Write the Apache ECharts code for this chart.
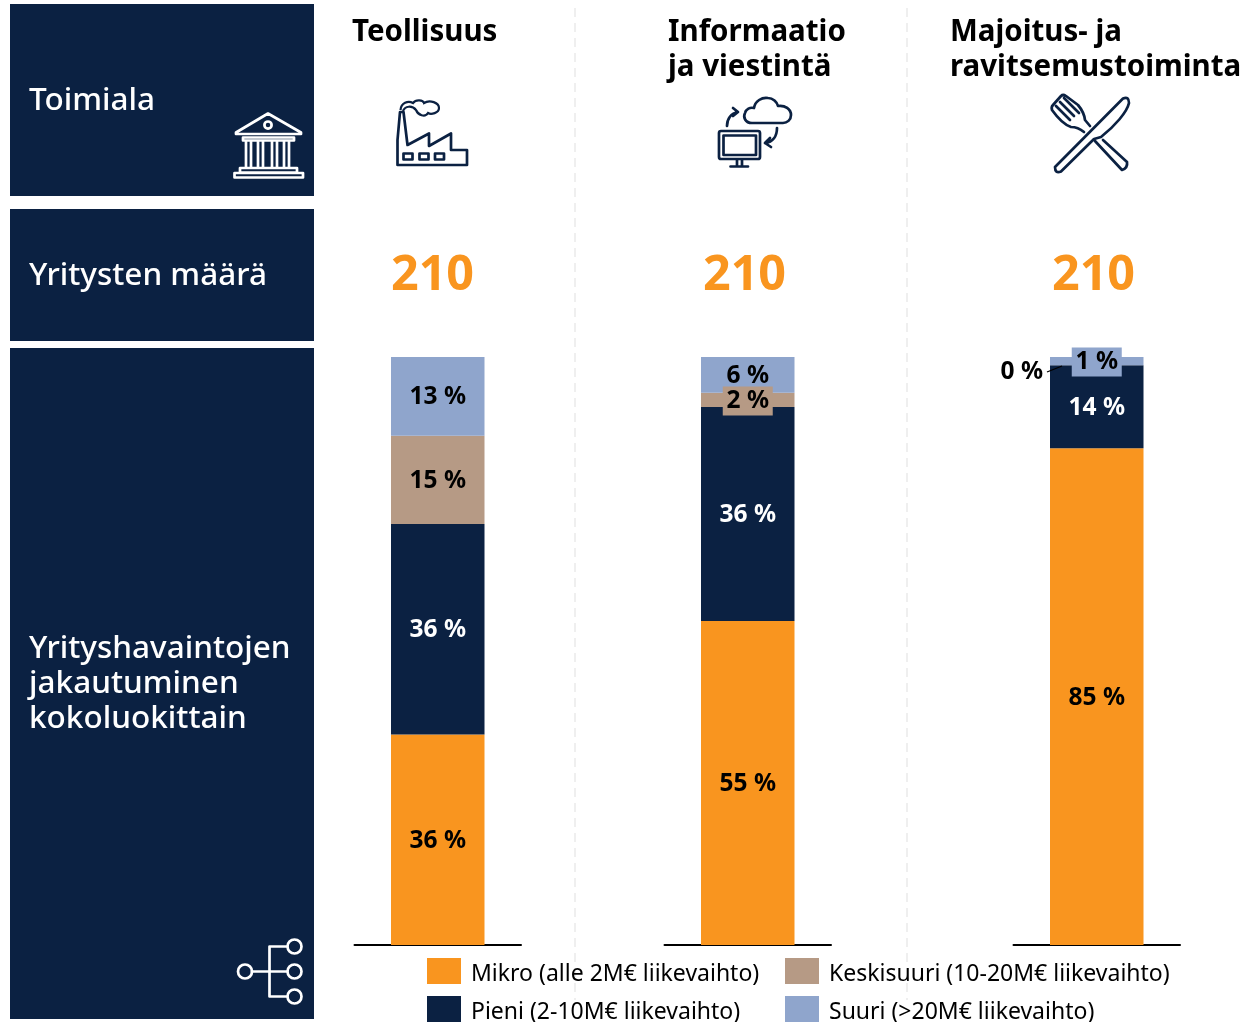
<!DOCTYPE html>
<html><head><meta charset="utf-8">
<style>html,body{margin:0;padding:0;background:#fff}#c{width:1243px;height:1022px}</style>
<script src="https://cdn.jsdelivr.net/npm/echarts@6/dist/echarts.min.js"></script>
</head><body><div id="c"></div>
<script>
var industries = ['Teollisuus', 'Informaatio\nja viestintä', 'Majoitus- ja\nravitsemustoiminta'];
var companyCounts = [210, 210, 210];
var seriesNames = ['Mikro (alle 2M€ liikevaihto)', 'Pieni (2-10M€ liikevaihto)', 'Keskisuuri (10-20M€ liikevaihto)', 'Suuri (>20M€ liikevaihto)'];
var mikro = [35.8, 55.1, 84.5];
var pieni = [35.8, 36.4, 14.1];
var keskisuuri = [15.0, 2.4, 0];
var suuri = [13.4, 6.1, 1.4];
var valueSets = [mikro, pieni, keskisuuri, suuri];
var colors = ['#F9951F', '#0B2142', '#B69A85', '#8FA5CC'];
var labelColors = ['#000', '#fff', '#000', '#000'];
var sideTexts = ['Toimiala', 'Yritysten määrä', 'Yrityshavaintojen\njakautuminen\nkokoluokittain'];

var FONT = '"Noto Sans", sans-serif';
var NAVY = '#0B2142';
var gridLefts = [354.5, 664.5, 1013.5];
var headerX = [352, 668, 950];
var countX = [432.5, 744.5, 1093.5];

var grids = [], xAxes = [], yAxes = [], series = [];
gridLefts.forEach(function (left, g) {
  grids.push({ left: left, width: 166.5, top: 357, height: 588 });
  xAxes.push({ type: 'category', gridIndex: g, data: [industries[g].replace('\n', ' ')],
    axisLine: { lineStyle: { color: '#000', width: 2 } }, axisTick: { show: false }, axisLabel: { show: false } });
  yAxes.push({ type: 'value', gridIndex: g, min: 0, max: 100, show: false, splitLine: { show: false } });
  valueSets.forEach(function (vals, s) {
    var v = vals[g];
    var small = v > 0 && v < 5;
    var item = {
      value: v,
      label: {
        show: true, position: 'inside', color: labelColors[s], offset: [0, 1],
        fontFamily: FONT, fontWeight: 'bold', fontSize: 24.5,
        formatter: Math.round(v) + ' %'
      }
    };
    if (small) {
      item.label.backgroundColor = colors[s];
      item.label.padding = [0, 6, 0, 6];
      item.label.width = 38;
      item.label.height = 29;
      item.label.lineHeight = 29;
      item.label.align = 'center';
      item.label.offset = [0, 1];
    }
    if (v === 0) {
      item.label.color = '#000';
      item.label.offset = [-75, 7];
    }
    series.push({
      name: seriesNames[s], type: 'bar', stack: 'g' + g, xAxisIndex: g, yAxisIndex: g,
      barWidth: 93.5, itemStyle: { color: colors[s] }, data: [item], silent: true
    });
  });
});

var S = { stroke: NAVY, lineWidth: 2.7, fill: 'none', lineJoin: 'round', lineCap: 'round' };
var W = { stroke: '#fff', lineWidth: 2.7, fill: 'none', lineJoin: 'round', lineCap: 'round' };
var iconCount = 0;
function icon(d, st) {
  var name = 'ico' + (iconCount++);
  echarts.graphic.registerShape(name, echarts.graphic.extendPath(d, {}));
  return { type: name, style: st, silent: true, z: 10 };
}
function txt(x, y, t, size, color, weight, align) {
  return { type: 'text', x: x, y: y, z: 10, silent: true, style: { text: t, fontFamily: FONT, fontSize: size, fontWeight: weight, fill: color, align: align || 'left', verticalAlign: 'middle', lineHeight: 35 } };
}
var g = [
  { type: 'rect', shape: { x: 10, y: 4, width: 304, height: 192 }, style: { fill: NAVY }, silent: true },
  { type: 'rect', shape: { x: 10, y: 209, width: 304, height: 132 }, style: { fill: NAVY }, silent: true },
  { type: 'rect', shape: { x: 10, y: 348, width: 304, height: 671 }, style: { fill: NAVY }, silent: true },
  { type: 'line', shape: { x1: 575, y1: 8, x2: 575, y2: 1000 }, style: { stroke: '#EFEFEF', lineWidth: 2, lineDash: [9, 6] }, silent: true, z: -1 },
  { type: 'line', shape: { x1: 907, y1: 8, x2: 907, y2: 1000 }, style: { stroke: '#EFEFEF', lineWidth: 2, lineDash: [9, 6] }, silent: true, z: -1 },
  txt(29, 101, sideTexts[0], 31.5, '#fff', 500),
  txt(29, 276, sideTexts[1], 31.5, '#fff', 500),
  txt(29, 684, sideTexts[2], 31.5, '#fff', 500),
  // leader line of the 0 % label
  { type: 'line', shape: { x1: 1047, y1: 372, x2: 1062, y2: 366 }, style: { stroke: '#000', lineWidth: 1.3 }, silent: true, z: 20 },
  // factory
  icon('M397.5 165V140L400 112H403.5L407.5 145L429 133.5V146L451 133.5V150H467V165ZM403.5 153.5h9v6h-9ZM419.5 153.5h9v6h-9ZM435 153.5h9v6h-9Z', S),
  icon('M400.5 110C401 103 408 100 413 103C416 99 423 100 424 103C430 99 439 103 439 108C439 113 431 115 428 113C425 118 418 115 416 110C412 105 405 106 403 111', { stroke: NAVY, lineWidth: 2.2, fill: 'none' }),
  // computer and cloud
  icon('M752 123C745 123 743 117 745 113C746 109 750 107 754 108C755 101 762 97 768 98C773 98 777 102 778 106C785 105 791 109 791 115C791 120 787 123 783 123Z', S),
  icon('M721 131H758Q760 131 760 133V157Q760 159 758 159H721Q719 159 719 157V133Q719 131 721 131ZM723.5 135.5H756V155H723.5ZM737 159.5V166M742 159.5V166M730.5 166.5H748', S),
  icon('M727 126C727 119 731 113 738 112M733 108L738 112L733 116M777 128C777 136 773 142 765 143M770 138L765 143L771 147', S),
  // fork and knife
  icon('M1123 98.5Q1129 96 1129 103C1127 112 1115 126 1101 137L1094 139L1061 171.5Q1055 174 1055 167L1123 98.5Z', S),
  icon('M1084 132Q1078 127 1071 127Q1062 124 1052 110Q1051 107 1053 105L1061 96Q1063 94 1066 96L1078 105Q1084 112 1085 120L1090 126M1060 102L1074 116M1064 98L1079 113M1056 106L1070 120M1103 140L1127 162Q1128 168 1122 170L1095 141', S),
  // bank
  icon('M268 113.5L236 132.5V134H301V132.5ZM243 137.5H294V140.5H243ZM246 141V167M251 141V167M258 141V167M263 141V167M272 141V167M277 141V167M284 141V167M289 141V167M240 168H297V172.5H240ZM234.5 173H303V177.5H234.5ZM268 121.5a3.6 3.6 0 1 0 0.01 0Z', W),
  // hierarchy
  icon('M252 971.5H287M269.5 971.5V946.5H287M269.5 971.5V996.5H287', W),
  icon('M245 964.5a7 7 0 1 0 0.01 0ZM294.5 939.5a7 7 0 1 0 0.01 0ZM294.5 964.5a7 7 0 1 0 0.01 0ZM294.5 989.5a7 7 0 1 0 0.01 0Z', W)
];
industries.forEach(function (t, i) {
  var lines = t.split('\n').length;
  g.push(txt(headerX[i], lines === 1 ? 33 : 50.5, t, 29.5, '#000', 'bold'));
  g.push(txt(countX[i], 276, String(companyCounts[i]), 48.5, colors[0], 'bold', 'center'));
});

function legend(left, names) {
  return { left: left, top: 958, height: 72, orient: 'vertical', data: names, itemWidth: 34, itemHeight: 32, itemGap: 6, selectedMode: false,
    icon: 'path://M0 0H34V26H0ZM0 32L0.001 32L0 32Z',
    textStyle: { fontFamily: FONT, fontSize: 23, color: '#000', padding: [0, 0, 0, 5] }, padding: 0, itemStyle: { borderWidth: 0 } };
}
var chart = echarts.init(document.getElementById('c'), null, { renderer: 'canvas' });
chart.setOption({
  animation: false, backgroundColor: '#fff',
  grid: grids, xAxis: xAxes, yAxis: yAxes, series: series, graphic: g,
  legend: [legend(427, [seriesNames[0], seriesNames[1]]), legend(785, [seriesNames[2], seriesNames[3]])]
});
</script></body></html>
